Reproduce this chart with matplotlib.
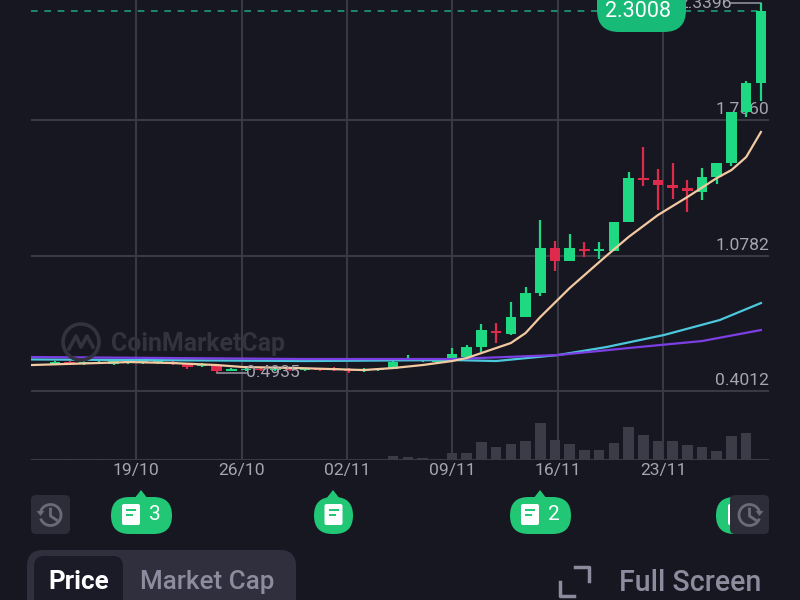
import matplotlib
matplotlib.use("Agg")
import matplotlib.pyplot as plt
from matplotlib.patches import FancyBboxPatch, Rectangle, Arc, Polygon

plt.rcParams["font.family"] = ["Roboto", "DejaVu Sans"]

# -----------------------------
# Data
# -----------------------------
candle_x = list(range(-27, 22))
opens = [0.536, 0.546, 0.536, 0.541, 0.536, 0.541, 0.541, 0.541, 0.546, 0.536, 0.526, 0.531, 0.501, 0.506,
         0.511, 0.506, 0.511, 0.506, 0.511, 0.516, 0.511, 0.501, 0.506, 0.511, 0.556, 0.551, 0.546,
         0.561, 0.571, 0.621, 0.701, 0.686, 0.771, 0.891, 1.116, 1.051, 1.111, 1.101,
         1.101, 1.246, 1.466, 1.456, 1.431, 1.416, 1.396, 1.471, 1.541, 1.796, 1.941]
closes = [0.546, 0.536, 0.546, 0.546, 0.551, 0.551, 0.551, 0.551, 0.536, 0.521, 0.536, 0.501, 0.511, 0.511,
          0.506, 0.511, 0.506, 0.511, 0.506, 0.506, 0.501, 0.511, 0.511, 0.546, 0.561, 0.556, 0.551,
          0.586, 0.621, 0.706, 0.691, 0.771, 0.891, 1.116, 1.051, 1.116, 1.101, 1.111,
          1.246, 1.466, 1.456, 1.431, 1.416, 1.401, 1.471, 1.541, 1.796, 1.941, 2.301]
highs = [0.551, 0.551, 0.551, 0.551, 0.556, 0.556, 0.556, 0.556, 0.551, 0.541, 0.541, 0.536, 0.516, 0.516,
         0.516, 0.516, 0.516, 0.516, 0.516, 0.521, 0.516, 0.516, 0.516, 0.551, 0.581, 0.561, 0.556,
         0.616, 0.631, 0.736, 0.741, 0.846, 0.921, 1.256, 1.151, 1.186, 1.146, 1.146,
         1.246, 1.496, 1.621, 1.511, 1.541, 1.456, 1.516, 1.541, 1.796, 1.951, 2.340]
lows = [0.531, 0.531, 0.531, 0.536, 0.531, 0.536, 0.536, 0.536, 0.531, 0.511, 0.521, 0.4935, 0.501, 0.501,
        0.501, 0.501, 0.501, 0.501, 0.501, 0.501, 0.491, 0.496, 0.501, 0.511, 0.551, 0.546, 0.541,
        0.561, 0.571, 0.596, 0.641, 0.681, 0.771, 0.876, 1.001, 1.051, 1.071, 1.061,
        1.101, 1.246, 1.426, 1.306, 1.361, 1.296, 1.356, 1.436, 1.526, 1.771, 1.851]

volume_x = [-26, -24, -20, -16, -9, -4, -3, -2, -1, 0, 1, 2, 3, 4, 5, 6, 7, 8, 9, 10,
            11, 12, 13, 14, 15, 16, 17, 18, 19, 20]
volumes = [1.5, 1.5, 1, 1, 1, 4, 3, 2.5, 1, 7, 7, 18, 13, 16, 19, 37, 20, 16, 10, 10,
           17, 33, 25, 19, 19, 15, 13, 9, 24, 27]

orange_x = [-28.6, -21.9, -19, -16, -14.2, -10.5, -6, -4, -2, 0, 1, 4, 5, 6, 8, 10.4, 12,
            14, 16, 18, 19, 20, 21]
orange_y = [0.531, 0.546, 0.541, 0.531, 0.521, 0.516, 0.506, 0.516, 0.531, 0.551, 0.566, 0.641,
            0.691, 0.771, 0.916, 1.071, 1.171, 1.281, 1.371, 1.466, 1.506, 1.571, 1.696]
cyan_x = [-28.6, -10, 0, 3, 7.2, 10.5, 14.4, 18.2, 21]
cyan_y = [0.559, 0.551, 0.556, 0.551, 0.581, 0.621, 0.681, 0.756, 0.841]
purple_x = [-28.6, -10, 0, 7.2, 12, 17, 21]
purple_y = [0.571, 0.561, 0.561, 0.581, 0.616, 0.651, 0.706]

date_ticks = [-21.48, -14.28, -7.14, 0.03, 7.2, 14.37]
date_labels = ["19/10", "26/10", "02/11", "09/11", "16/11", "23/11"]
price_ticks = [1.7560, 1.0782, 0.4012]
price_labels = ["1.7560", "1.0782", "0.4012"]
last_price = 2.3008
high_price = 2.3396
low_price = 0.4935

BG = "#171722"
GRID = "#393945"
LABEL = "#a5a5b1"
GREEN = "#1fd882"
RED = "#de2b4c"
BUBBLE = "#22c776"
BUTTON = "#2d2c39"
ICON = "#6b6b77"
MUTED = "#8c8c9e"

# -----------------------------
# Axes
# -----------------------------
fig = plt.figure(figsize=(8, 6), dpi=100, facecolor=BG)
ax = fig.add_axes([31 / 800, 1 - 460 / 600, 738 / 800, 460 / 600], facecolor="none")
ax.set_xlim(-28.62, 21.55)
ax.set_ylim(0.0562, 2.3562)
for s in ax.spines.values():
    s.set_visible(False)

ax.set_xticks(date_ticks)
ax.set_xticklabels(date_labels, fontsize=12.6, color=LABEL)
ax.set_yticks(price_ticks + [0.0562])
ax.tick_params(length=0, pad=2, labelleft=False)
ax.grid(color=GRID, linewidth=1.5, zorder=1)
ax.set_axisbelow(True)

for val, lab in zip(price_ticks, price_labels):
    ax.annotate(lab, (21.55, val), xytext=(0, 2), textcoords="offset points", ha="right", va="bottom",
                fontsize=12.6, color=LABEL, zorder=2)

# watermark
ax.annotate("CoinMarketCap", (-23.18, 0.636), fontsize=17.9, fontweight="bold", color="#33333f",
            va="center", ha="left", zorder=1.5)

# volume bars share the bottom strip
vax = fig.add_axes([31 / 800, 1 - 460 / 600, 738 / 800, 69 / 600], facecolor="none", sharex=ax)
vax.set_ylim(0, 69)
vax.axis("off")
vax.bar(volume_x, volumes, width=0.72, color="#3c3b48")

# candles
colors = [GREEN if c >= o else RED for o, c in zip(opens, closes)]
ax.vlines(candle_x, lows, highs, colors=colors, linewidth=1.6, zorder=3)
ax.bar(candle_x, [abs(c - o) for o, c in zip(opens, closes)], bottom=[min(o, c) for o, c in zip(opens, closes)],
       width=0.72, color=colors, zorder=3)

# moving averages
ax.plot(cyan_x, cyan_y, color="#4cc8dc", linewidth=1.6, zorder=4)
ax.plot(purple_x, purple_y, color="#7b3fe4", linewidth=1.6, zorder=4.1)
ax.plot(orange_x, orange_y, color="#f3c9a2", linewidth=1.6, zorder=4.2)

# last price line
ax.axhline(last_price, xmax=0.985, color="#1f9c78", linewidth=1.2, linestyle=(0, (4, 4)), zorder=2.5)

# high / low markers
ax.plot([21, 21, 19], [last_price, high_price, high_price], color="#8f8f9b", linewidth=1.2, zorder=2.6)
ax.annotate("2.3396", (19, high_price), xytext=(0, 0), textcoords="offset points", ha="right", va="center",
            fontsize=12.6, color=LABEL, zorder=2.6)
ax.plot([-16, -14], [low_price, low_price], color="#8f8f9b", linewidth=1.2, zorder=5)
ax.annotate("0.4935", (-14, low_price), xytext=(0, 0), textcoords="offset points", ha="left", va="center",
            fontsize=12.6, color=LABEL, zorder=5)

# -----------------------------
# App chrome, pixel coordinates
# -----------------------------
ui = fig.add_axes([0, 0, 1, 1], facecolor="none")
ui.set_xlim(0, 800)
ui.set_ylim(600, 0)
ui.axis("off")


def round_box(x0, y0, x1, y1, r, color, z=1):
    ui.add_patch(FancyBboxPatch((x0 + r, y0 + r), x1 - x0 - 2 * r, y1 - y0 - 2 * r,
                                boxstyle=f"round,pad={r},rounding_size={r}", fc=color, ec="none", zorder=z))


def doc_icon(cx, cy):
    round_box(cx - 9, cy - 11, cx + 9, cy + 10, 2, "white", 3)
    ui.add_patch(Rectangle((cx - 5, cy - 6), 10, 2, fc=BUBBLE, ec="none", zorder=4))
    ui.add_patch(Rectangle((cx - 5, cy - 1), 7, 2, fc=BUBBLE, ec="none", zorder=4))


def bubble(x0, x1, tip=None, label=None):
    round_box(x0, 497, x1, 534, 18.5, BUBBLE, 2)
    if tip is not None:
        ui.add_patch(Polygon([(tip - 7, 499), (tip, 490), (tip + 7, 499)], fc=BUBBLE, ec="none", zorder=2))
    if label:
        doc_icon(x0 + 20, 515)
        ui.text(x0 + 44, 514, label, fontsize=15, color="white", ha="center", va="center", zorder=3)
    else:
        doc_icon((x0 + x1) / 2, 515)


def clock_button(x0, mirror=False):
    round_box(x0, 495, x0 + 39, 534, 5, BUTTON, 5)
    cx = x0 + 19.5
    start, end = (20, 340) if mirror else (200, 520)
    ui.add_patch(Arc((cx, 515), 21, 21, theta1=start, theta2=end, ec=ICON, lw=2, zorder=6))
    ui.plot([cx, cx, cx + 6], [509, 516, 520], color=ICON, lw=2, zorder=6)
    side = 10 if mirror else -10
    ui.add_patch(Polygon([(cx + side - 4, 511), (cx + side + 4, 511), (cx + side, 516)], fc=ICON, ec="none", zorder=6))


# watermark logo
ui.add_patch(Arc((81, 342), 36, 36, theta1=-60, theta2=300, ec="#33333f", lw=2.6, zorder=0.5))
ui.plot([69, 76, 81, 87, 93], [349, 336, 347, 336, 347], color="#33333f", lw=2.6, zorder=0.5)

# last price pill
round_box(597, -30, 686, 32, 22, "#18ba78", 6)
ui.text(637.5, 11.5, "2.3008", fontsize=15.5, color="white", ha="center", va="center", zorder=7)

clock_button(31)
clock_button(730, mirror=True)
bubble(111, 172, 141, "3")
bubble(314, 353, 333)
bubble(510, 571, 540, "2")
bubble(716, 758)

# tab switch
round_box(27, 550, 296, 640, 16, "#302f3d", 1)
round_box(34, 556, 123, 640, 10, "#1b1b27", 2)
ui.text(78.5, 582, "Price", fontsize=18.6, fontweight="bold", color="white", ha="center", va="center", zorder=3)
ui.text(207, 582, "Market Cap", fontsize=18.7, fontweight="medium", color=MUTED, ha="center", va="center", zorder=3)

# full screen
ui.plot([575, 589, 589], [567, 567, 581], color=MUTED, lw=2.5, zorder=3)
ui.plot([560, 560, 574], [582, 596, 596], color=MUTED, lw=2.5, zorder=3)
ui.text(690, 583, "Full Screen", fontsize=20.6, fontweight="medium", color=MUTED, ha="center", va="center", zorder=3)

fig.savefig("out.png", dpi=100, facecolor=BG)
